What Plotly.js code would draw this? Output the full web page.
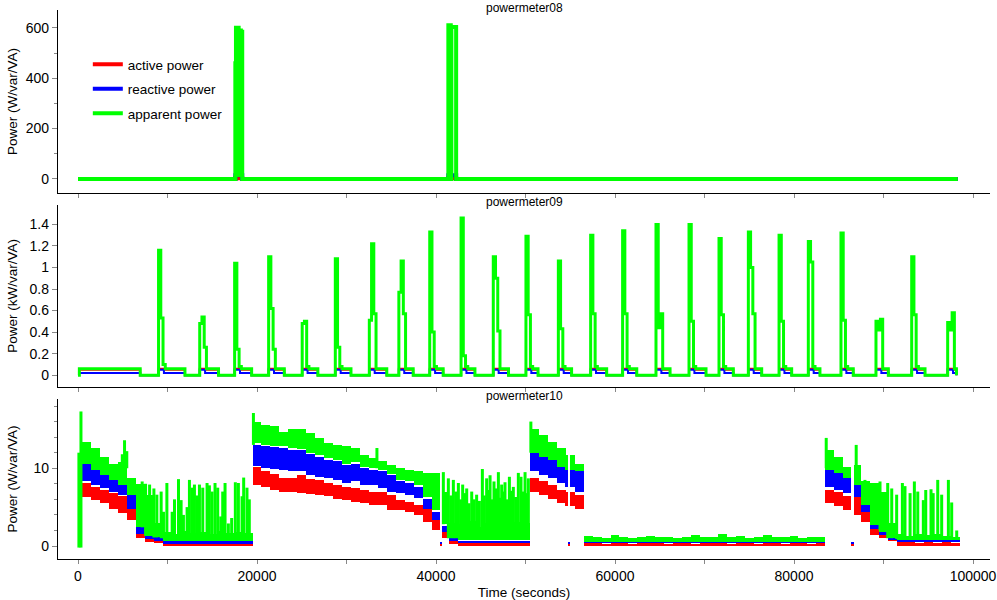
<!DOCTYPE html>
<html><head><meta charset="utf-8">
<script src="https://cdn.plot.ly/plotly-3.0.1.min.js"></script>
<style>html,body{margin:0;padding:0;background:#fff}#chart{width:997px;height:600px}</style>
</head><body><div id="chart"></div>
<script>
const seriesNames = ['active power', 'reactive power', 'apparent power'];
const seriesColors = ['#ff0000', '#0000ff', '#00ff00'];
const panelTitles = ['powermeter08', 'powermeter09', 'powermeter10'];
const yTitles = ['Power (W/var/VA)', 'Power (kW/var/VA)', 'Power (W/var/VA)'];
const xTitle = 'Time (seconds)';

// ---- powermeter08 (W/var/VA) ----
const pm08Time     = [0, 17580, 17650, 17950, 18080, 18200, 18350, 41380, 41650, 41720, 42250, 98300];
const pm08Apparent = [0, 459,   600,   15,    590,   585,   0,     610,   0,     603,   0,     0];
const pm08Reactive = [0, 14,    14,    14,    14,    14,    0,     14,    14,    14,    0,     0];
const pm08Active   = [0, 3,     3,     3,     3,     3,     0,     3,     3,     3,     0,     0];

// ---- powermeter09 (kW/var/VA) ----
const pm09FirstOn = [0, 6950];
const pm09Start  = [9000,13600,17500,21300,25050,28750,32550,35850,39300,42800,46400,50050,53670,57280,60850,64580,68270,71620,74900,78330,81600,85250,89160,93150,97170];
const pm09End    = [11950,15700,19400,23050,26800,30500,34500,37450,40800,44350,48100,51400,55150,59070,62430,66150,70170,73220,76390,79740,82900,86620,90540,94640,98150];
const pm09Spike1 = [1.16,0.48,1.04,1.10,0.48,1.08,0.51,0.77,1.33,1.46,1.10,1.29,1.06,1.30,1.34,1.40,1.40,1.27,1.33,1.30,1.24,1.32,0.50,1.10,0.49];
const pm09Spike2 = [0.53,0.54,0.24,0.62,0.50,0.26,1.22,1.06,0.40,0.18,0.90,0.56,0.43,0.57,0.57,0.44,0.50,0.56,1.00,0.50,1.05,0.51,0.42,0.56,0.42];
const pm09Spike3 = [0.10,0.26,0.08,0.24,0.08,0.08,0.57,0.57,0.08,0.08,0.41,0.08,0.08,0.08,0.08,0.57,0.08,0.08,0.57,0.08,0.08,0.08,0.52,0.08,0.58];
const pm09Base   = [0.05, 0.02, 0.06];   // active, reactive, apparent while on
const pm09Surge  = [0.06, 0.05];         // active, reactive at switch-on

// ---- powermeter10 (W/var/VA): 1000 s intervals, low/high envelope of each series ----
const pm10Time = [500,1500,2500,3500,4500,5500,6500,7500,8500,9500,10500,11500,12500,13500,14500,15500,16500,17500,18500,19500,
  20500,21500,22500,23500,24500,25500,26500,27500,28500,29500,30500,31500,32500,33500,34500,35500,36500,37500,38500,39500,
  40500,41500,42500,43500,44500,45500,46500,47500,48500,49500,50500,51500,52500,53500,54500,55500,56500,57500,58500,59500,
  60500,61500,62500,63500,64500,65500,66500,67500,68500,69500,70500,71500,72500,73500,74500,75500,76500,77500,78500,79500,
  80500,81500,82500,83500,84500,85500,86500,87500,88500,89500,90500,91500,92500,93500,94500,95500,96500,97500];
const pm10ActiveLo = [6.3,5.9,5.5,4.8,4.2,3.3,1.0,0.5,0.4, 0,0,0,0,0,0,0,0,0,0,
  7.9,7.6,7.2,7.0,7.0,6.8,6.7,6.6,6.4,6.1,5.9,5.7,5.5,5.3,5.3,4.6,4.6,4.4,4.0,3.1,
  2.0,1.0,0.2, 0,0,0,0,0,0,0,0, 7.0,6.6,6.1,5.5,5.1,4.8,
  0,0,0,0,0,0,0,0,0,0,0,0,0,0,0,0,0,0,0,0,0,0,0,0,0,0,0,
  5.5,5.1,4.6,4.0,3.1,1.4,1.0,0.6, 0,0,0,0,0,0,0];
const pm10ActiveHi = [8.1,7.6,7.2,6.8,6.4,5.3,2.0,1.0,0.9, 0.4,0.5,0.4,0.4,0.5,0.4,0.4,0.5,0.4,0.4,
  10.2,9.6,9.3,8.7,8.7,9.1,8.6,8.5,8.1,7.9,7.6,7.4,7.2,7.0,7.0,6.6,5.9,5.7,5.3,4.8,
  3.3,2.3,0.8, 0.5,0.6,0.5,0.5,0.6,0.5,0.6,0.6, 8.7,8.3,7.9,7.2,7.0,6.6,
  0.4,0.4,0.3,0.4,0.4,0.3,0.4,0.4,0.4,0.3,0.4,0.4,0.3,0.4,0.4,0.4,0.3,0.4,0.4,0.3,0.4,0.4,0.3,0.4,0.4,0.3,0.4,
  7.2,7.0,6.4,6.4,4.8,2.5,1.6,0.9, 0.6,0.5,0.4,0.5,0.4,0.5,0.4];
const pm10ReactiveLo = [8.3,7.9,7.4,7.0,6.5,4.8,1.6,0.9,0.7, 0.3,0.3,0.3,0.3,0.3,0.3,0.3,0.3,0.3,0.3,
  10.3,10.0,9.9,9.8,9.6,9.6,9.1,8.9,8.7,8.5,8.1,8.3,7.9,7.9,7.4,7.0,6.8,6.6,6.2,4.8,
  3.3,1.8,0.6, 0.4,0.4,0.4,0.4,0.4,0.4,0.4,0.4, 9.6,9.1,8.7,8.1,7.6,7.0,
  0.4,0.4,0.4,0.4,0.4,0.4,0.4,0.4,0.4,0.4,0.4,0.4,0.4,0.4,0.4,0.4,0.4,0.4,0.4,0.4,0.4,0.4,0.4,0.4,0.4,0.4,0.4,
  7.6,7.2,6.8,6.3,4.4,2.2,1.4,0.8, 0.5,0.5,0.5,0.5,0.5,0.5,0.5];
const pm10ReactiveHi = [10.6,9.8,9.1,8.5,7.9,6.6,2.4,1.3,1.1, 0.6,0.6,0.6,0.6,0.6,0.6,0.6,0.6,0.6,0.6,
  13.0,12.8,12.7,12.6,12.4,12.3,11.8,11.5,11.1,10.9,10.4,10.6,10.0,9.8,9.6,9.1,8.3,8.1,7.6,6.1,
  4.4,2.6,1.0, 0.7,0.7,0.7,0.7,0.7,0.7,0.7,0.7, 11.9,11.5,11.1,10.2,9.8,9.6,
  0.5,0.5,0.5,0.5,0.5,0.5,0.5,0.5,0.5,0.5,0.5,0.5,0.5,0.5,0.5,0.5,0.5,0.5,0.5,0.5,0.5,0.5,0.5,0.5,0.5,0.5,0.5,
  9.8,9.4,8.7,7.9,5.3,2.7,1.8,1.0, 0.8,0.8,0.8,0.8,0.8,0.8,0.8];
const pm10ApparentLo = [10.6,9.8,9.1,8.5,7.9,6.6,2.4,1.3,1.1, 0.6,0.6,0.6,0.6,0.6,0.6,0.6,0.6,0.6,0.6,
  13.2,13.0,12.9,12.8,12.6,12.5,12.0,11.7,11.3,11.1,10.6,10.8,10.2,10.0,9.8,9.3,8.5,8.3,7.8,6.3,
  4.6,2.8,1.0, 0.8,0.8,0.8,0.8,0.8,0.8,0.8,0.8, 11.9,11.5,11.1,10.2,9.8,9.6,
  0.5,0.5,0.5,0.5,0.5,0.5,0.5,0.5,0.5,0.5,0.5,0.5,0.5,0.5,0.5,0.5,0.5,0.5,0.5,0.5,0.5,0.5,0.5,0.5,0.5,0.5,0.5,
  9.8,9.4,8.7,7.9,5.3,2.7,1.8,1.0, 0.8,0.8,0.8,0.8,0.8,0.8,0.8];
const pm10ApparentHi = [13.4,12.6,11.5,10.6,10.8,8.7,8.0,6.5,3.0, 1.8,1.6,1.9,1.7,1.8,1.6,1.9,1.7,1.8,1.7,
  16.0,15.6,15.4,14.7,15.1,15.1,14.5,13.9,13.2,13.0,12.8,12.6,11.7,11.3,10.9,10.4,10.0,9.8,9.6,9.4,
  9.4,7.0,3.0, 2.8,3.2,2.5,3.0,3.4,2.7,3.1,3.0, 15.1,14.3,13.4,12.6,11.7,10.6,
  1.3,1.1,1.0,1.4,1.2,1.0,1.1,1.3,1.1,1.2,1.0,1.1,1.4,1.1,1.2,1.5,1.1,1.3,1.0,1.2,1.4,1.1,1.2,1.3,1.0,1.2,1.2,
  12.4,11.5,10.2,10.4,8.3,8.1,7.0,3.0, 1.5,1.3,1.6,1.4,1.5,1.3,1.2];
// short dropouts where every series falls to ~0
const pm10DropStart = [40400, 54700, 86400];
const pm10DropEnd   = [40650, 54950, 86650];
const pm10DropLo = [0, 0.3, 0];      // active, reactive, apparent
const pm10DropHi = [0.4, 0.5, 0];
// isolated apparent-power spikes
const pm10SpikeTime = [100,330,4950,5200,5450,7170,7550,8000,8480,8810,9290,9550,9930,10520,10780,11230,11520,11780,12190,12450,
  12750,13010,13270,13570,13940,14420,14680,14980,15310,15610,15950,16170,16430,16800,17170,17580,17920,18330,18510,18880,
  19140,19600,33400,40820,41380,41650,41940,42200,42500,42750,42980,43200,43430,43700,43990,44250,44540,44850,45180,45400,
  45660,45850,46040,46250,46480,46700,46970,47150,47340,47520,47710,47950,48200,48420,48640,48900,49200,49500,49700,49950,
  50150,50320,50600,83600,86950,87930,89610,90470,90920,91470,92110,92400,92970,93450,93830,94450,94720,95310,95550,96060,
  96500,97250,97620,98180];
const pm10SpikeBase = [-0.2,-0.2,10.0,10.0,10.0,2.4,1.3,1.3,1.1,1.1,1.0,1.0,1.0,1.0,1.0,1.0,1.0,1.0,1.0,1.0,
  1.0,1.0,1.0,1.0,1.0,1.0,1.0,1.0,1.0,1.0,1.0,1.0,1.0,1.0,1.0,1.0,1.0,1.0,1.0,1.0,
  1.0,13.0,10.0,2.8,1.0,1.0,1.0,1.0,1.0,1.0,1.0,1.0,1.0,1.0,1.0,1.0,1.0,1.0,1.0,1.0,
  1.0,1.0,1.0,1.0,1.0,1.0,1.0,1.0,1.0,1.0,1.0,1.0,1.0,1.0,1.0,1.0,1.0,1.0,1.0,1.0,
  1.0,1.0,12.0,10.0,10.0,5.3,2.0,1.0,1.0,0.9,0.9,0.9,0.9,0.9,0.9,0.9,0.9,0.9,0.9,0.9,
  0.9,0.9,0.9,0.9];
const pm10SpikeTop = [12.0,17.3,11.8,13.6,12.2,8.3,8.0,7.9,7.4,6.6,7.0,4.4,8.1,4.4,6.0,8.6,5.9,4.0,5.0,8.5,
  7.5,7.9,6.5,7.9,7.5,8.1,7.8,7.0,8.1,7.5,3.8,7.0,8.1,2.9,3.6,8.2,8.1,6.4,8.8,7.5,
  6.0,17.1,12.6,9.5,8.7,6.5,8.5,7.0,8.1,6.0,7.9,6.8,7.4,5.5,7.0,6.0,6.6,5.8,9.9,6.5,
  8.7,7.2,9.1,6.0,8.3,7.4,9.5,6.2,7.9,7.0,8.2,6.0,8.9,7.1,7.6,6.3,9.4,8.9,7.0,9.5,
  6.8,8.7,16.0,13.9,13.0,8.5,8.3,8.1,7.4,6.6,8.1,7.7,6.8,8.3,7.0,5.9,7.2,7.3,6.8,8.5,
  6.6,8.5,5.6,2.0];

// ---------- build traces ----------
function buildPm09(kind) { // 0 active, 1 reactive, 2 apparent
  const x = [], y = [];
  if (kind === 2) { x.push(pm09FirstOn[0], pm09FirstOn[0] + 150); y.push(0, pm09Base[2]); }
  else { x.push(pm09FirstOn[0]); y.push(pm09Base[kind]); }
  x.push(pm09FirstOn[1]); y.push(0);
  for (let i = 0; i < pm09Start.length; i++) {
    const s = pm09Start[i];
    if (kind === 2) {
      x.push(s, s + 250, s + 500, s + 750); y.push(pm09Spike1[i], pm09Spike2[i], pm09Spike3[i], pm09Base[2]);
    } else {
      x.push(s, s + 600); y.push(pm09Surge[kind], pm09Base[kind]);
    }
    x.push(pm09End[i]); y.push(0);
  }
  return {x, y};
}
// one rectangle per interval (split around dropouts): centre, width, base, height
function pm10Blocks(lo, hi, k) {
  const n = pm10Time.length, step = pm10Time[1] - pm10Time[0];
  const idxAt = t => { let j = 0; for (let i = 0; i < n; i++) if (pm10Time[i] <= t) j = i; return j; };
  let pts = pm10Time.map((t, i) => [t, lo[i], hi[i]]);
  for (let d = 0; d < pm10DropStart.length; d++) {
    const s = pm10DropStart[d], e = pm10DropEnd[d];
    pts = pts.filter(p => p[0] < s || p[0] >= e);
    const j = idxAt(e);
    pts.push([s, pm10DropLo[k], pm10DropHi[k]], [e, lo[j], hi[j]]);
  }
  pts.sort((a, b) => a[0] - b[0]);
  const endT = pm10Time[n - 1] + step;
  const x = [], w = [], base = [], h = [];
  for (let i = 0; i < pts.length; i++) {
    const t0 = pts[i][0], t1 = i + 1 < pts.length ? pts[i + 1][0] : endT;
    x.push((t0 + t1) / 2); w.push(t1 - t0); base.push(pts[i][1]); h.push(pts[i][2] - pts[i][1]);
  }
  return {x, w, base, h};
}

const traces = [];
const pm08Series = [pm08Active, pm08Reactive, pm08Apparent];
for (let k = 0; k < 3; k++) {
  traces.push({type: 'scatter', mode: 'lines', x: pm08Time, y: pm08Series[k], xaxis: 'x', yaxis: 'y',
    name: seriesNames[k], legendgroup: 'g' + k, showlegend: true,
    line: {color: seriesColors[k], width: 4, shape: 'hv'}});
}
const pm09Widths = [2, 2, 3];
for (let k = 0; k < 3; k++) {
  const d = buildPm09(k);
  traces.push({type: 'scatter', mode: 'lines', x: d.x, y: d.y, xaxis: 'x2', yaxis: 'y2',
    name: seriesNames[k], legendgroup: 'g' + k, showlegend: false,
    line: {color: seriesColors[k], width: pm09Widths[k], shape: 'hv'}});
}
const pm10Bands = [[pm10ActiveLo, pm10ActiveHi], [pm10ReactiveLo, pm10ReactiveHi], [pm10ApparentLo, pm10ApparentHi]];
for (let k = 0; k < 3; k++) {
  const b = pm10Blocks(pm10Bands[k][0], pm10Bands[k][1], k);
  traces.push({type: 'bar', x: b.x, y: b.h, base: b.base, width: b.w, xaxis: 'x3', yaxis: 'y3',
    name: seriesNames[k], legendgroup: 'g' + k, showlegend: false,
    marker: {color: seriesColors[k], line: {width: 0}}});
}
{
  const x = [], y = [];
  for (let i = 0; i < pm10SpikeTime.length; i++) {
    x.push(pm10SpikeTime[i], pm10SpikeTime[i], null);
    y.push(pm10SpikeBase[i], pm10SpikeTop[i], null);
  }
  traces.push({type: 'scatter', mode: 'lines', x: x, y: y, xaxis: 'x3', yaxis: 'y3', connectgaps: false,
    name: seriesNames[2], legendgroup: 'g2', showlegend: false,
    line: {color: seriesColors[2], width: 3}});
}

// ---------- layout ----------
const fontFam = '"Liberation Sans", Arial, Helvetica, sans-serif';
const xRange = [-2235, 101900];
const domains = [[0.6667, 1], [0.3133, 0.6448], [0, 0.2914]];
function xAxis(anchor, labels) {
  const a = {domain: [0, 1], anchor: anchor, range: xRange, showline: true, linecolor: '#000', linewidth: 1.3,
    ticks: 'outside', ticklen: 4, tickcolor: '#888', tickwidth: 1, tick0: 0, dtick: 20000, tickformat: 'd',
    minor: {dtick: 10000, ticks: 'outside', ticklen: 4, tickcolor: '#888', tickwidth: 1},
    showgrid: false, zeroline: false, showticklabels: labels, tickfont: {size: 14, color: '#000'}};
  if (anchor !== 'y3') a.matches = 'x3';
  return a;
}
function yAxis(i, anchor, range, dtick, minorDtick, standoff) {
  const a = {domain: domains[i], anchor: anchor, range: range, showline: true, linecolor: '#000', linewidth: 1.3,
    ticks: 'outside', ticklen: 5, tickcolor: '#888', tickwidth: 1, tick0: 0, dtick: dtick,
    showgrid: false, zeroline: false, tickfont: {size: 14, color: '#000'},
    title: {text: yTitles[i], font: {size: 13.5, color: '#000'}, standoff: standoff}};
  if (minorDtick) a.minor = {dtick: minorDtick, ticks: 'outside', ticklen: 3, tickcolor: '#888', tickwidth: 1};
  return a;
}
const titleShift = [2, 3.5, 3.5];
const annotations = panelTitles.map((t, i) => ({text: t, xref: 'paper', yref: 'paper', x: 0.5, y: domains[i][1],
  xanchor: 'center', yanchor: 'middle', yshift: titleShift[i], showarrow: false, font: {size: 12, color: '#000'}}));

const layout = {
  width: 997, height: 600,
  margin: {l: 58, r: 7, t: 10, b: 41},
  paper_bgcolor: '#fff', plot_bgcolor: '#fff',
  font: {family: fontFam, color: '#000'},
  barmode: 'overlay', bargap: 0, bargroupgap: 0,
  showlegend: true,
  legend: {x: 0.032, y: 0.929, xanchor: 'left', yanchor: 'top', bgcolor: 'rgba(0,0,0,0)',
    font: {size: 13.5, color: '#000'}, tracegroupgap: 4},
  xaxis: xAxis('y', false),
  xaxis2: xAxis('y2', false),
  xaxis3: Object.assign(xAxis('y3', true), {title: {text: xTitle, font: {size: 13.5, color: '#000'}, standoff: 8}}),
  yaxis: yAxis(0, 'x', [-56, 671], 200, 100, 4),
  yaxis2: yAxis(1, 'x2', [-0.11, 1.58], 0.2, null, 8),
  yaxis3: yAxis(2, 'x3', [-1.67, 18.9], 10, 2, 12),
  annotations: annotations
};
Plotly.newPlot('chart', traces, layout, {displayModeBar: false, responsive: false});
</script>
</body></html>
